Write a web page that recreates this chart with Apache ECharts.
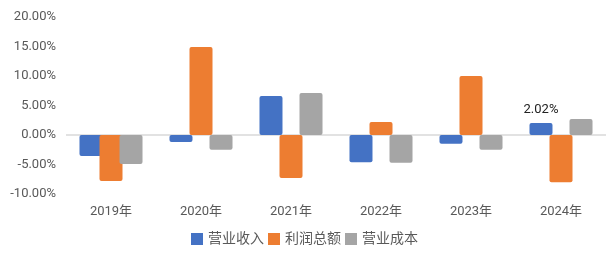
<!DOCTYPE html>
<html><head><meta charset="utf-8">
<script src="https://cdn.jsdelivr.net/npm/echarts@6/dist/echarts.min.js"></script>
<style>html,body{margin:0;padding:0;background:#fff;}#c{width:609px;height:255px;}</style>
</head><body><div id="c"></div>
<script>
const categories = ['2019年','2020年','2021年','2022年','2023年','2024年'];
const revenue = [-3.55, -1.2, 6.6, -4.6, -1.5, 2.02];
const profit = [-7.8, 14.9, -7.3, 2.2, 10.0, -8.0];
const cost = [-4.9, -2.5, 7.1, -4.7, -2.5, 2.7];
const seriesNames = ['营业收入','利润总额','营业成本'];
const colors = ['#4472C4','#ED7D31','#A5A5A5'];

const chart = echarts.init(document.getElementById('c'));
const font = 'Roboto,"Noto Sans CJK SC",sans-serif';
function mk(name, data, color, labelIdx, zeroLine) {
  const s = {
    name, type: 'bar', data: data.map((v, i) => ({
      value: v,
      label: i === labelIdx ? {show: true, position: 'top', formatter: p => p.value.toFixed(2) + '%', color: '#222', fontSize: 13, fontFamily: font, distance: 7} : {show: false}
    })),
    barWidth: 23, barGap: '-13%',
    itemStyle: {color, borderRadius: 2}
  };
  if (zeroLine) {
    s.markLine = {silent: true, symbol: 'none', label: {show: false}, z: 1,
      lineStyle: {color: '#d9d9d9', width: 1.5, type: 'solid'}, data: [{yAxis: 0}]};
  }
  return s;
}
chart.setOption({
  animation: false,
  textStyle: {fontFamily: font},
  grid: {left: 66, right: 3, top: 17, bottom: 61, outerBoundsMode: 'none'},
  legend: {
    bottom: 4, left: 'center', itemWidth: 12, itemHeight: 12, itemGap: 4,
    icon: 'rect',
    textStyle: {color: '#595959', fontSize: 14, fontFamily: font},
    data: seriesNames
  },
  xAxis: {
    type: 'category', data: categories,
    axisLine: {show: false, onZero: false},
    axisTick: {show: false},
    axisLabel: {color: '#595959', fontSize: 13, margin: 11, fontFamily: font}
  },
  yAxis: {
    type: 'value', min: -10, max: 20, interval: 5,
    axisLine: {show: false}, axisTick: {show: false},
    splitLine: {show: false},
    axisLabel: {color: '#595959', fontSize: 13, margin: 10, formatter: v => v.toFixed(2) + '%', fontFamily: font}
  },
  series: [
    mk(seriesNames[0], revenue, colors[0], 5, true),
    mk(seriesNames[1], profit, colors[1], -1),
    mk(seriesNames[2], cost, colors[2], -1)
  ]
});
</script></body></html>
